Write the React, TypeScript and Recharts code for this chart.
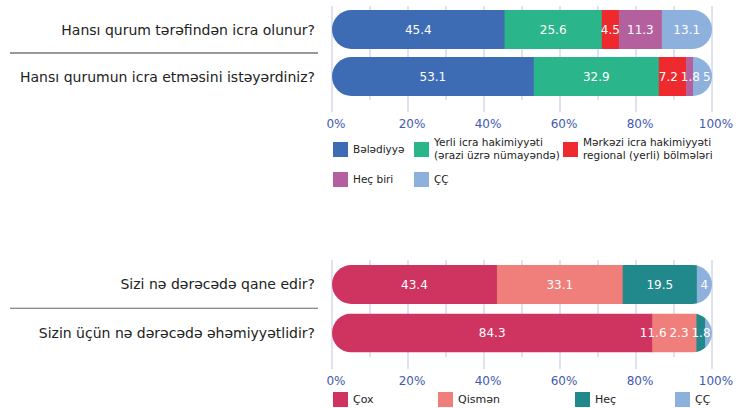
import React from 'react';
import { BarChart, Bar, XAxis, YAxis, CartesianGrid, LabelList, Legend } from 'recharts';

// ---- Data: top chart ----
const questions1 = ['Hansı qurum tərəfindən icra olunur?', 'Hansı qurumun icra etməsini istəyərdiniz?'];
const seriesNames1 = [
  'Bələdiyyə',
  'Yerli icra hakimiyyəti\n(ərazi üzrə nümayəndə)',
  'Mərkəzi icra hakimiyyəti\nregional (yerli) bölmələri',
  'Heç biri',
  'ÇÇ',
];
const seriesColors1 = ['#3D6CB5', '#2BB58A', '#EE2A2F', '#B4609F', '#8EB0DC'];
const belediyye = [45.4, 53.1];
const yerliIcra = [25.6, 32.9];
const merkeziIcra = [4.5, 7.2];
const hecBiri = [11.3, 1.8];
const cc1 = [13.1, 5];

// ---- Data: bottom chart ----
const questions2 = ['Sizi nə dərəcədə qane edir?', 'Sizin üçün nə dərəcədə əhəmiyyətlidir?'];
const seriesNames2 = ['Çox', 'Qismən', 'Heç', 'ÇÇ'];
const seriesColors2 = ['#CF3461', '#F07F7B', '#21898C', '#8EB0DC'];
const cox = [43.4, 84.3];
const qismen = [33.1, 11.6];
const hec = [19.5, 2.3];
const cc2 = [4, 1.8];

const xTicks = [0, 10, 20, 30, 40, 50, 60, 70, 80, 90, 100];

const series1 = [belediyye, yerliIcra, merkeziIcra, hecBiri, cc1];
const series2 = [cox, qismen, hec, cc2];

const buildData = (questions: string[], series: number[][]) =>
  questions.map((q, i) => {
    const row: any = { q };
    series.forEach((s, k) => (row['s' + k] = s[i]));
    return row;
  });
const data1 = buildData(questions1, series1);
const data2 = buildData(questions2, series2);

const FONT = '"DejaVu Sans", Verdana, sans-serif';
const GRID = '#D6D9EF';
const TICK_COLOR = '#4259AE';
const PLOT_LEFT = 332;
const PLOT_RIGHT_MARGIN = 32;
const PLOT_W = 744 - PLOT_LEFT - PLOT_RIGHT_MARGIN;
const PX_PER_UNIT = PLOT_W / 100;

// estimated text width (px) of a value label at 12px DejaVu Sans
const labelWidth = (v: number) =>
  String(v)
    .split('')
    .reduce((a, ch) => a + (ch === '.' ? 3.8 : 7.6), 0);

// resolve overlapping in-bar labels along a row (shift in value units)
const computeShifts = (series: number[][]) => {
  const nRows = series[0].length;
  const shifts: number[][] = series.map(() => new Array(nRows).fill(0));
  for (let i = 0; i < nRows; i++) {
    let cum = 0;
    const c: number[] = [];
    const w: number[] = [];
    series.forEach((s) => {
      c.push(cum + s[i] / 2);
      w.push(labelWidth(s[i]) / PX_PER_UNIT);
      cum += s[i];
    });
    const orig = c.slice();
    const gap = 3 / PX_PER_UNIT;
    for (let k = 1; k < c.length; k++) c[k] = Math.max(c[k], c[k - 1] + (w[k - 1] + w[k]) / 2 + gap);
    const last = c.length - 1;
    c[last] = Math.min(c[last], 100 - w[last] / 2 - 1.5 / PX_PER_UNIT);
    for (let k = last - 1; k >= 0; k--) c[k] = Math.min(c[k], c[k + 1] - (w[k] + w[k + 1]) / 2 - gap);
    c.forEach((v, k) => (shifts[k][i] = v - orig[k]));
  }
  return shifts;
};
const shifts1 = computeShifts(series1);
const shifts2 = computeShifts(series2);

const makeLabel = (shifts: number[][], series: number[][], k: number) => (props: any) => {
  const vb = props.viewBox || props;
  const { x, y, width, height } = vb;
  const value = props.value;
  let idx = props.index;
  if (idx == null) idx = series[k].indexOf(Number(value));
  const pxu = value ? width / value : PX_PER_UNIT;
  const cx = x + width / 2 + (shifts[k][idx] || 0) * pxu;
  return (
    <text x={cx} y={y + height / 2} textAnchor="middle" dominantBaseline="central" fill="#fff" fontSize={12} fontFamily={FONT}>
      {value}
    </text>
  );
};

const makePill = (key: string) => (props: any) => {
  const { x, y, width, height, fill, background, index } = props;
  if (!width || !height) return <g />;
  const bx = background && background.x != null ? background.x : PLOT_LEFT;
  const bw = background && background.width != null ? background.width : PLOT_W;
  const id = `pill-${key}-${index}`;
  return (
    <g>
      <defs>
        <clipPath id={id}>
          <rect x={bx} y={y} width={bw} height={height} rx={height / 2} ry={height / 2} />
        </clipPath>
      </defs>
      <rect x={x} y={y} width={width + 0.5} height={height} fill={fill} clipPath={`url(#${id})`} />
    </g>
  );
};

const makeQuestionTick = (sepColor: string, sepOffset: number) => (props: any) => {
  const { x, y, payload, index } = props;
  return (
    <g>
      <text x={x} y={y} textAnchor="end" dominantBaseline="central" fontSize={14} fill="#222" fontFamily={FONT}>
        {payload.value}
      </text>
      {index === 0 && <line x1={10} x2={318} y1={y + sepOffset} y2={y + sepOffset} stroke={sepColor} strokeWidth={1.2} />}
    </g>
  );
};

const PercentTick = (props: any) => {
  const { x, y, payload } = props;
  const v = payload.value;
  if (v % 20 !== 0) return <g />;
  return (
    <g>
      <line x1={x} x2={x} y1={y} y2={y + 12} stroke={GRID} strokeWidth={1.5} />
      <text x={x + 4} y={y + 24} textAnchor="middle" dominantBaseline="central" fontSize={12} fill={TICK_COLOR} fontFamily={FONT}>
        {v}%
      </text>
    </g>
  );
};

const makeLegend = (names: string[], colors: string[], cols: number[], fontSize: number, rowGap: number) => () => (
  <div
    style={{
      display: 'grid',
      gridTemplateColumns: cols.map((c) => c + 'px').join(' '),
      rowGap,
      fontFamily: FONT,
      alignItems: 'center',
    }}
  >
    {names.map((name, i) => (
      <div key={i} style={{ display: 'flex', alignItems: 'center' }}>
        <span style={{ width: 15, height: 15, background: colors[i], marginRight: 5, flex: 'none', display: 'inline-block' }} />
        <span style={{ whiteSpace: 'pre', fontSize, lineHeight: '13px', color: '#222' }}>{name}</span>
      </div>
    ))}
  </div>
);

const pill1 = makePill('top');
const pill2 = makePill('bot');

export default function App() {
  return (
    <div style={{ position: 'absolute', left: 0, top: 0, width: 744, height: 408, background: '#fff', fontFamily: FONT, overflow: 'hidden' }}>
      <div style={{ position: 'absolute', left: 0, top: 0 }}>
        <BarChart
          width={744}
          height={200}
          data={data1}
          layout="vertical"
          margin={{ top: 6, right: PLOT_RIGHT_MARGIN, bottom: 70, left: 0 }}
          barSize={39}
        >
          <CartesianGrid horizontal={false} vertical stroke={GRID} strokeWidth={1.5} />
          <XAxis
            type="number"
            domain={[0, 100]}
            ticks={xTicks}
            interval={0}
            axisLine={false}
            tickLine={false}
            tickSize={0}
            tickMargin={0}
            height={30}
            tick={PercentTick}
          />
          <YAxis
            type="category"
            dataKey="q"
            width={PLOT_LEFT}
            axisLine={false}
            tickLine={false}
            tickSize={0}
            tickMargin={17}
            interval={0}
            tick={makeQuestionTick('#333', 23.5)}
          />
          {seriesNames1.map((name, k) => (
            <Bar key={k} dataKey={'s' + k} name={name} stackId="a" fill={seriesColors1[k]} isAnimationActive={false} shape={pill1}>
              <LabelList dataKey={'s' + k} content={makeLabel(shifts1, series1, k)} />
            </Bar>
          ))}
          <Legend
            layout="horizontal"
            verticalAlign="middle"
            align="center"
            wrapperStyle={{ left: 333, top: 136, width: 411 }}
            content={makeLegend(seriesNames1, seriesColors1, [81, 149, 180], 10.5, 10)}
          />
        </BarChart>
      </div>
      <div style={{ position: 'absolute', left: 0, top: 250 }}>
        <BarChart
          width={744}
          height={158}
          data={data2}
          layout="vertical"
          margin={{ top: 10, right: PLOT_RIGHT_MARGIN, bottom: 21, left: 0 }}
          barSize={39}
        >
          <CartesianGrid horizontal={false} vertical stroke={GRID} strokeWidth={1.5} />
          <XAxis
            type="number"
            domain={[0, 100]}
            ticks={xTicks}
            interval={0}
            axisLine={false}
            tickLine={false}
            tickSize={0}
            tickMargin={0}
            height={30}
            tick={PercentTick}
          />
          <YAxis
            type="category"
            dataKey="q"
            width={PLOT_LEFT}
            axisLine={false}
            tickLine={false}
            tickSize={0}
            tickMargin={17}
            interval={0}
            tick={makeQuestionTick('#666', 24)}
          />
          {seriesNames2.map((name, k) => (
            <Bar key={k} dataKey={'s' + k} name={name} stackId="b" fill={seriesColors2[k]} isAnimationActive={false} shape={pill2}>
              <LabelList dataKey={'s' + k} content={makeLabel(shifts2, series2, k)} />
            </Bar>
          ))}
          <Legend
            layout="horizontal"
            verticalAlign="middle"
            align="center"
            wrapperStyle={{ left: 333, top: 142, width: 411 }}
            content={makeLegend(seriesNames2, seriesColors2, [105, 137, 100, 60], 11, 0)}
          />
        </BarChart>
      </div>
    </div>
  );
}
